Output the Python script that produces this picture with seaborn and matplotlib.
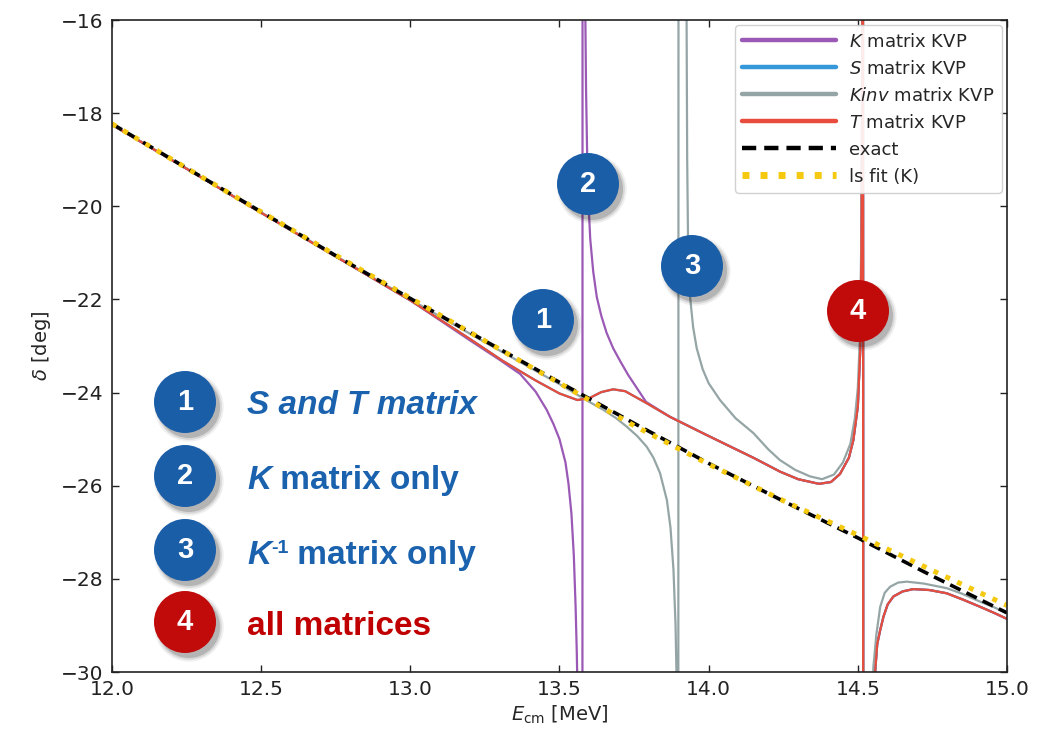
import matplotlib
matplotlib.use('Agg')
import matplotlib.pyplot as plt
import seaborn as sns
from matplotlib.patches import Circle

# phase shift data (E_cm in MeV, delta in deg)
exact_E = [12.0, 12.25, 12.5, 12.75, 13.0, 13.25, 13.5, 13.75, 14.0, 14.25, 14.5, 14.75, 15.0]
exact_d = [-18.23, -19.18, -20.12, -21.06, -21.98, -22.89, -23.78, -24.66, -25.52, -26.33, -27.12, -27.94, -28.73]

lsfit_E = [12.0, 12.25, 12.5, 12.75, 13.0, 13.25, 13.5, 13.75, 14.0, 14.25, 14.5, 14.75, 15.0]
lsfit_d = [-18.23, -19.18, -20.12, -21.05, -21.97, -22.89, -23.80, -24.71, -25.54, -26.32, -27.06, -27.82, -28.57]

# T matrix (S matrix is the same curve, hidden under it)
t_E = [12.0, 12.5, 13.0, 13.2, 13.31, 13.42, 13.5, 13.56, 13.6, 13.64, 13.68, 13.72, 13.79,
       13.87, 13.98, 14.06, 14.15, 14.24, 14.3, 14.37, 14.41, 14.44, 14.47, 14.485, 14.5,
       14.508, 14.512, 14.515, 14.517, 14.519, 14.54, 14.552, 14.558, 14.565, 14.575, 14.586,
       14.6, 14.619, 14.65, 14.686, 14.74, 14.798, 14.85, 14.91, 14.96, 15.0]
t_d = [-18.25, -20.14, -22.02, -22.85, -23.32, -23.74, -24.02, -24.16, -24.12, -23.99, -23.93, -23.97, -24.22,
       -24.52, -24.87, -25.12, -25.40, -25.70, -25.86, -25.96, -25.92, -25.75, -25.40, -25.02, -24.30,
       -23.10, -21.0, -17.0, -8.0, -50.0, -40.0, -31.5, -30.0, -29.4, -29.1, -28.81,
       -28.55, -28.38, -28.27, -28.22, -28.24, -28.31, -28.44, -28.60, -28.74, -28.86]
s_E = list(t_E)
s_d = list(t_d)

# K matrix: spurious pole near 13.58 MeV, then joins the T curve
k_E = [12.0, 12.5, 13.0, 13.2, 13.3, 13.368, 13.42, 13.457, 13.48, 13.5, 13.52, 13.53, 13.54, 13.548,
       13.554, 13.558, 13.562, 13.57, 13.576, 13.578, 13.583, 13.586, 13.589, 13.593, 13.597, 13.603,
       13.613, 13.625, 13.64, 13.658, 13.68, 13.703, 13.73, 13.759, 13.79] + t_E[13:]
k_d = [-18.25, -20.14, -22.02, -22.88, -23.3, -23.6, -23.98, -24.37, -24.68, -25.0, -25.5, -25.95, -26.6, -27.5,
       -28.6, -29.6, -31.0, -40.0, -70.0, 20.0, -13.0, -15.5, -17.5, -19.0, -19.9, -20.7,
       -21.4, -21.95, -22.35, -22.72, -23.05, -23.32, -23.62, -23.9, -24.2] + t_d[13:]

# K inverse matrix: spurious pole near 13.9 MeV
g_E = [12.0, 12.5, 13.0, 13.25, 13.5, 13.6, 13.647, 13.69, 13.725, 13.76, 13.792, 13.815, 13.837,
       13.86, 13.872, 13.882, 13.889, 13.895, 13.898, 13.9, 13.923, 13.926, 13.928, 13.931, 13.937,
       13.948, 13.96, 13.98, 14.0, 14.038, 14.09, 14.15, 14.2, 14.239, 14.29, 14.34, 14.38, 14.42,
       14.45, 14.475, 14.49, 14.5, 14.507, 14.512, 14.515, 14.517, 14.519, 14.535, 14.545, 14.552,
       14.562, 14.575, 14.59, 14.608, 14.635, 14.664, 14.72, 14.798, 14.85, 14.91, 14.96, 15.0]
g_d = [-18.24, -20.13, -22.0, -22.92, -23.82, -24.2, -24.37, -24.55, -24.73, -24.93, -25.16, -25.4, -25.73,
       -26.31, -26.9, -27.8, -29.0, -31.0, -40.0, 20.0, -12.0, -16.0, -19.0, -20.8, -21.9,
       -22.6, -23.05, -23.5, -23.8, -24.16, -24.55, -24.87, -25.22, -25.45, -25.66, -25.8, -25.86, -25.76,
       -25.5, -25.1, -24.55, -23.9, -22.8, -20.5, -17.0, -8.0, -50.0, -45.0, -33.0, -29.9,
       -29.2, -28.6, -28.3, -28.17, -28.08, -28.06, -28.1, -28.2, -28.32, -28.49, -28.62, -28.74]

x_ticks = [12.0, 12.5, 13.0, 13.5, 14.0, 14.5, 15.0]
y_ticks = [-30, -28, -26, -24, -22, -20, -18, -16]

sns.set_style('ticks', {'xtick.direction': 'in', 'ytick.direction': 'in',
                        'xtick.top': True, 'ytick.right': True})
plt.rcParams['font.family'] = ['DejaVu Sans']
plt.rcParams['axes.unicode_minus'] = True

W, H, DPI = 1045, 732, 100
fig = plt.figure(figsize=(W / DPI, H / DPI), dpi=DPI)
ax = fig.add_axes([112 / W, (H - 672) / H, (1007 - 112) / W, (672 - 20) / H])

lw = 1.6
sns.lineplot(x=k_E, y=k_d, ax=ax, color='#9b59b6', lw=lw, sort=False, estimator=None, label=r'$K$ matrix KVP')
sns.lineplot(x=s_E, y=s_d, ax=ax, color='#3498db', lw=lw, sort=False, estimator=None, label=r'$S$ matrix KVP')
sns.lineplot(x=g_E, y=g_d, ax=ax, color='#95a5a6', lw=lw, sort=False, estimator=None, label=r'$Kinv$ matrix KVP')
sns.lineplot(x=t_E, y=t_d, ax=ax, color='#e74c3c', lw=lw, sort=False, estimator=None, label=r'$T$ matrix KVP')
sns.lineplot(x=exact_E, y=exact_d, ax=ax, color='black', lw=2.6, ls=(0, (3.2, 1.8)),
             sort=False, estimator=None, label='exact')
sns.lineplot(x=lsfit_E, y=lsfit_d, ax=ax, color='#f4c90f', lw=3.6, ls=(0, (1, 1.6)),
             sort=False, estimator=None, label='ls fit (K)')

ax.set_xlim(12.0, 15.0)
ax.set_ylim(-30, -16)
ax.set_xticks(x_ticks)
ax.set_yticks(y_ticks)
ax.set_xticklabels([f'{v:.1f}' for v in x_ticks])
ax.tick_params(labelsize=14.5, length=5, width=1, pad=6, colors='#222222')
for sp in ax.spines.values():
    sp.set_color('#222222')
    sp.set_linewidth(1.2)
ax.set_xlabel(r'$E_{\rm cm}$ [MeV]', fontsize=14, labelpad=3)
ax.set_ylabel(r'$\delta$ [deg]', fontsize=14, labelpad=6)

leg = ax.legend(loc='upper right', fontsize=13, handlelength=5.2, handletextpad=0.72,
                labelspacing=0.5, borderaxespad=0.3, borderpad=0.4, frameon=True,
                edgecolor='#cccccc', framealpha=0.9)
for line in leg.get_lines():
    line.set_linewidth(3.2)
leg.get_lines()[5].set_linewidth(5)

# numbered badges and explanatory text (pixel positions)
tr = fig.dpi_scale_trans
R = 0.31
BLUE = '#1b5ea8'
RED = '#c10b0b'


def badge(cx, cy, num, color):
    for k, a in [(1.12, 0.06), (1.06, 0.10), (1.0, 0.16)]:
        fig.add_artist(Circle(((cx + 4) / DPI, (H - cy - 5) / DPI), R * k, transform=tr,
                              facecolor='black', alpha=a, lw=0, zorder=5))
    fig.add_artist(Circle((cx / DPI, (H - cy) / DPI), R, transform=tr,
                          facecolor=color, edgecolor='none', zorder=6))
    fig.text(cx / DPI, (H - cy) / DPI, num, transform=tr, ha='center', va='center',
             color='white', fontsize=21, fontweight='bold', family='Liberation Sans', zorder=7)


def rich(x, cy, parts, color):
    renderer = fig.canvas.get_renderer()
    x_in = x / DPI
    base = (H - cy - 12) / DPI
    for s, size, style, dy in parts:
        t = fig.text(x_in, base + dy / DPI, s, transform=tr, ha='left', va='baseline',
                     fontsize=size, fontweight='bold', fontstyle=style,
                     family='Liberation Sans', color=color, zorder=7)
        x_in += t.get_window_extent(renderer).width / DPI


for cx, cy, num, col in [(543, 320, '1', BLUE), (588, 184, '2', BLUE),
                         (692, 266, '3', BLUE), (858, 311, '4', RED),
                         (185, 402, '1', BLUE), (185, 476, '2', BLUE),
                         (185, 550, '3', BLUE), (185, 622, '4', RED)]:
    badge(cx, cy, num, col)

TXT_BLUE = '#1a62ae'
rich(247, 402, [('S and T matrix', 24, 'italic', 0)], TXT_BLUE)
rich(247, 477, [('K', 24, 'italic', 0), (' matrix only', 24, 'normal', 0)], TXT_BLUE)
rich(247, 552, [('K', 24, 'italic', 0), ('-1', 14, 'normal', 11), (' matrix only', 24, 'normal', 0)], TXT_BLUE)
rich(247, 623, [('all matrices', 24, 'normal', 0)], '#c00000')

fig.savefig('out.png', dpi=DPI)
